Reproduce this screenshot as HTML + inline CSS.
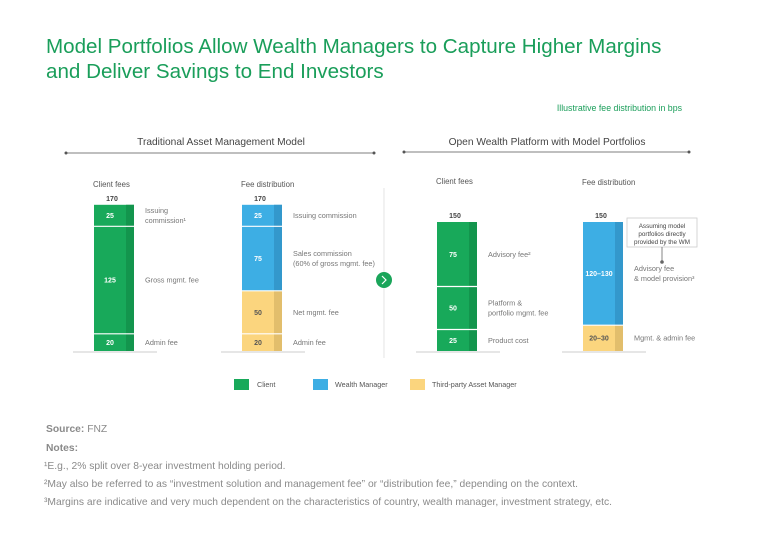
<!DOCTYPE html>
<html><head><meta charset="utf-8">
<style>
body{margin:0;background:#fff;}
svg{display:block;font-family:"Liberation Sans",sans-serif;}
</style></head><body>
<svg id="c" width="768" height="534" viewBox="0 0 768 534">
<text x="46" y="53" font-size="20.6" fill="#1a9e5a">Model Portfolios Allow Wealth Managers to Capture Higher Margins</text>
<text x="46" y="78" font-size="20.6" fill="#1a9e5a">and Deliver Savings to End Investors</text>
<text x="682" y="111" font-size="8.8" fill="#1a9e5a" text-anchor="end">Illustrative fee distribution in bps</text>
<text x="221" y="145" font-size="10.2" fill="#444" text-anchor="middle">Traditional Asset Management Model</text>
<line x1="66" y1="153" x2="374" y2="153" stroke="#555" stroke-width="0.8"/>
<circle cx="66" cy="153" r="1.5" fill="#555"/><circle cx="374" cy="153" r="1.5" fill="#555"/>
<text x="547" y="145" font-size="10.2" fill="#444" text-anchor="middle">Open Wealth Platform with Model Portfolios</text>
<line x1="404" y1="152" x2="689" y2="152" stroke="#555" stroke-width="0.8"/>
<circle cx="404" cy="152" r="1.5" fill="#555"/><circle cx="689" cy="152" r="1.5" fill="#555"/>
<line x1="384" y1="188" x2="384" y2="358" stroke="#ddd" stroke-width="0.8"/>
<circle cx="384" cy="280" r="8" fill="#1aa55a"/>
<path d="M382 276 L386 280 L382 284" stroke="#fff" stroke-width="1.2" fill="none"/>
<rect x="627" y="218" width="70" height="29" fill="#fff" stroke="#ccc" stroke-width="0.8"/>
<text x="662" y="228" font-size="6.3" fill="#444" text-anchor="middle"><tspan x="662">Assuming model</tspan><tspan x="662" dy="8">portfolios directly</tspan><tspan x="662" dy="8">provided by the WM</tspan></text>
<line x1="662" y1="247" x2="662" y2="262" stroke="#666" stroke-width="0.8"/>
<circle cx="662" cy="262" r="1.8" fill="#666"/>
<g id="bars"></g>
<g>
<rect x="234" y="379" width="15" height="11" fill="#18a95a"/>
<text x="257" y="387" font-size="7.2" fill="#555">Client</text>
<rect x="313" y="379" width="15" height="11" fill="#3daee4"/>
<text x="335" y="387" font-size="7.2" fill="#555">Wealth Manager</text>
<rect x="410" y="379" width="15" height="11" fill="#fbd57e"/>
<text x="432" y="387" font-size="7.2" fill="#555">Third-party Asset Manager</text>
</g>
<g font-size="10.3" fill="#8a8a8a">
<text x="46" y="432"><tspan font-weight="bold">Source:</tspan> FNZ</text>
<text x="46" y="451" font-weight="bold">Notes:</text>
<text x="44" y="469">¹E.g., 2% split over 8-year investment holding period.</text>
<text x="44" y="487">²May also be referred to as “investment solution and management fee” or “distribution fee,” depending on the context.</text>
<text x="44" y="505">³Margins are indicative and very much dependent on the characteristics of country, wealth manager, investment strategy, etc.</text>
</g>
</svg>
<script>
const barTitles = ["Client fees","Fee distribution","Client fees","Fee distribution"];
const barTotals = ["170","170","150","150"];
const seg0Values = [20,125,25];
const seg0Labels = ["20","125","25"];
const seg0Names = ["Admin fee","Gross mgmt. fee","Issuing|commission¹"];
const seg0Colors = ["g","g","g"];
const seg1Values = [20,50,75,25];
const seg1Labels = ["20","50","75","25"];
const seg1Names = ["Admin fee","Net mgmt. fee","Sales commission|(60% of gross mgmt. fee)","Issuing commission"];
const seg1Colors = ["y","y","b","b"];
const seg2Values = [25,50,75];
const seg2Labels = ["25","50","75"];
const seg2Names = ["Product cost","Platform &|portfolio mgmt. fee","Advisory fee²"];
const seg2Colors = ["g","g","g"];
const seg3Values = [30,120];
const seg3Labels = ["20–30","120–130"];
const seg3Names = ["Mgmt. & admin fee","Advisory fee|& model provision³"];
const seg3Colors = ["y","b"];

const NS="http://www.w3.org/2000/svg";
const g=document.getElementById('bars');
const base=351, k=0.86;
const yS=v=>base-v*k;
const barX=[94,242,437,583];
const titleY=[187,187,184,185];
const pal={g:["#18a95a","#13954d","#fff"],b:["#3daee4","#3398cc","#fff"],y:["#fbd57e","#e2be6c","#555"]};
const segs=[[seg0Values,seg0Labels,seg0Names,seg0Colors],[seg1Values,seg1Labels,seg1Names,seg1Colors],[seg2Values,seg2Labels,seg2Names,seg2Colors],[seg3Values,seg3Labels,seg3Names,seg3Colors]];
function el(t,a,txt){const e=document.createElementNS(NS,t);for(const k in a)e.setAttribute(k,a[k]);if(txt!=null)e.textContent=txt;g.appendChild(e);return e;}
segs.forEach((s,i)=>{
  const x=barX[i],w=40;
  const bl=el('line',{x1:x-21,y1:352,x2:x+63,y2:352,stroke:'#ddd','stroke-width':1.5});
  
  
  const t=el('text',{x:x-1,y:titleY[i],'font-size':7.8,fill:'#555'},barTitles[i]);
  
  
  let cum=0;
  s[0].forEach((v,j)=>{
    const y0=yS(cum), y1=yS(cum+v); cum+=v;
    const c=pal[s[3][j]];
    const r=el('rect',{x:x,y:y1,width:w,height:y0-y1,fill:c[0]});
    
    
    el('rect',{x:x+32,y:y1,width:8,height:y0-y1,fill:c[1]});
    if(j>0) el('line',{x1:x,y1:y0,x2:x+w,y2:y0,stroke:'#fff','stroke-width':1.2});
    const my=(y0+y1)/2;
    const vl=el('text',{x:x+16,y:my+2.5,'font-size':7,'font-weight':'bold',fill:c[2],'text-anchor':'middle'},s[1][j]);
    
    
    const lines=s[2][j].split('|');
    const nl=el('text',{x:x+51,y:my+2.5-(lines.length-1)*5,'font-size':7.3,fill:'#777'});
    
    
    lines.forEach((L,n)=>{const ts=document.createElementNS(NS,'tspan');ts.setAttribute('x',x+51);if(n)ts.setAttribute('dy',10);ts.textContent=L;nl.appendChild(ts);});
  });
  const tt=el('text',{x:x+18,y:yS(cum)-4,'font-size':7,'font-weight':'bold',fill:'#444','text-anchor':'middle'},barTotals[i]);
  
  
});
</script>
</body></html>
